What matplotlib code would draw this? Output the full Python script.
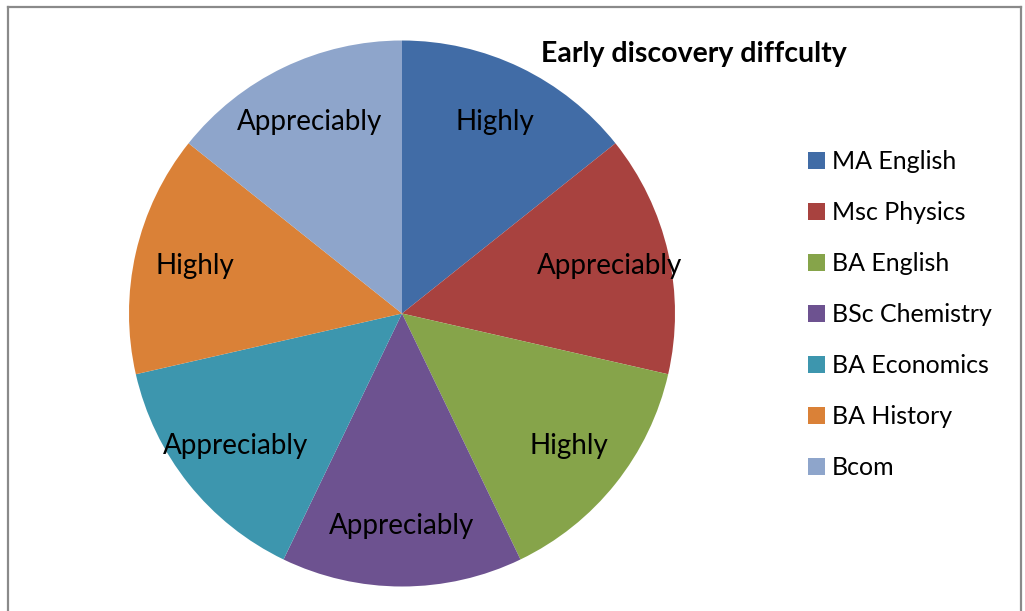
import matplotlib
matplotlib.use("Agg")
import matplotlib.pyplot as plt
from matplotlib.lines import Line2D
from matplotlib.patches import Patch

plt.rcParams['font.family'] = ['Lato', 'DejaVu Sans']

title = "Early discovery diffculty"
categories = ["MA English", "Msc Physics", "BA English", "BSc Chemistry",
              "BA Economics", "BA History", "Bcom"]
values = [1, 1, 1, 1, 1, 1, 1]
slice_labels = ["Highly", "Appreciably", "Highly", "Appreciably",
                "Appreciably", "Highly", "Appreciably"]
colors = ["#416CA6", "#A8423F", "#86A44A", "#6D5290",
          "#3D96AE", "#DA8137", "#8EA5CB"]

W, H = 1025, 611
fig = plt.figure(figsize=(W / 100, H / 100), dpi=100)

cx, cy, r = 402, 313.5, 273
ax = fig.add_axes([(cx - r) / W, (H - cy - r) / H, 2 * r / W, 2 * r / H])
wedges, texts = ax.pie(values, colors=colors, labels=slice_labels,
                       startangle=90, counterclock=False, radius=1,
                       labeldistance=0.78,
                       textprops=dict(fontsize=20, color='black',
                                      ha='center', va='center'))
for t in texts:
    t.set_ha('center')
    t.set_va('center')
ax.set_xlim(-1, 1)
ax.set_ylim(-1, 1)
ax.set_aspect('equal')
ax.axis('off')

fig.text(694 / W, 1 - 54 / H, title, ha='center', va='center',
         fontsize=20.5, fontweight='bold')

handles = [Patch(facecolor=c, edgecolor='none') for c in colors]
fig.legend(handles, categories, loc='upper left',
           bbox_to_anchor=(808 / W, 1 - 150 / H), frameon=False,
           fontsize=18, handlelength=0.68, handleheight=0.68,
           handletextpad=0.28, labelspacing=1.12, borderaxespad=0,
           borderpad=0)

border = dict(color='#8a8a8a', linewidth=1.6, transform=fig.transFigure)
fig.add_artist(Line2D([8 / W, 8 / W], [0, 1 - 7 / H], **border))
fig.add_artist(Line2D([8 / W, 1021 / W], [1 - 7 / H, 1 - 7 / H], **border))
fig.add_artist(Line2D([1021 / W, 1021 / W], [0, 1 - 7 / H], **border))

fig.savefig("out.png", dpi=100, facecolor='white')
